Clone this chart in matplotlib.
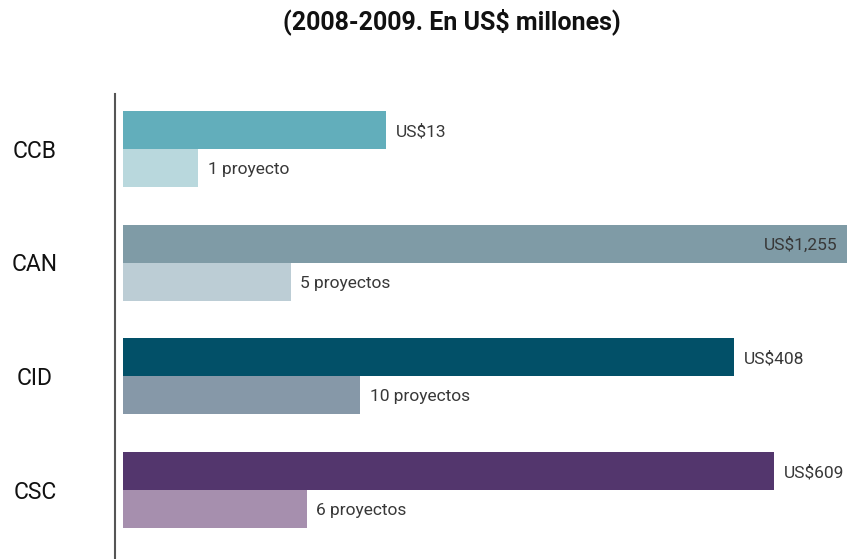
import numpy as np
import matplotlib.pyplot as plt
from matplotlib.transforms import blended_transform_factory

plt.rcParams['font.family'] = ['Roboto', 'DejaVu Sans']

# fondos por institucion, 2008-2009
entidades = ['CCB', 'CAN', 'CID', 'CSC']
montos = [13, 1255, 408, 609]          # US$ millones
proyectos = [1, 5, 10, 6]
etiquetas_monto = ['US$13', 'US$1,255', 'US$408', 'US$609']
etiquetas_proy = ['1 proyecto', '5 proyectos', '10 proyectos', '6 proyectos']

color_monto = ['#62aebb', '#7f9ba6', '#025068', '#53366d']
color_proy = ['#b9d8dd', '#bccdd5', '#8698a8', '#a68fae']

fig = plt.figure(figsize=(8.66, 5.59), dpi=100)
ax = fig.add_axes([123/866, 0, 743/866, 1 - 94/559])
ax2 = ax.twiny()

y = np.arange(len(entidades))
h = 38/113.67
base = 0.951

# montos en escala logaritmica (la barra empieza en la base del eje)
ax.barh(y - h/2, np.array(montos) - base, height=h, color=color_monto, left=base)
ax.set_xscale('log')
ax.set_xlim(base, base * 10**(743/232))

# proyectos en escala raiz cuadrada
ax2.barh(y + h/2, proyectos, height=h, color=color_proy)
ax2.set_xscale('function', functions=(np.sqrt, np.square))
ax2.set_xlim(0, (743/75)**2)

ax.set_ylim(3 + 69/113.67, -(55/113.67))

for a in (ax, ax2):
    for s in a.spines.values():
        s.set_visible(False)
    a.set_xticks([])
    a.set_yticks([])
    a.xaxis.set_minor_locator(plt.NullLocator())

ax.spines['left'].set_visible(True)
ax.spines['left'].set_position(('outward', 6))
ax.spines['left'].set_color('#555555')
ax.spines['left'].set_linewidth(1.5)

gris = '#383838'
for i in range(len(entidades)):
    if i == 1:
        ax.annotate(etiquetas_monto[i], (montos[i], y[i] - h/2), xytext=(-7, -1),
                    textcoords='offset points', ha='right', va='center',
                    fontsize=12.5, color=gris)
    else:
        ax.annotate(etiquetas_monto[i], (montos[i], y[i] - h/2), xytext=(7, -1),
                    textcoords='offset points', ha='left', va='center',
                    fontsize=12.5, color=gris)
    ax2.annotate(etiquetas_proy[i], (proyectos[i], y[i] + h/2), xytext=(7, -1),
                 textcoords='offset points', ha='left', va='center',
                 fontsize=12.5, color=gris)

trans = blended_transform_factory(fig.transFigure, ax.transData)
for i, nombre in enumerate(entidades):
    ax.text(35/866, y[i] + 0.02, nombre, transform=trans, ha='center', va='center',
            fontsize=16.5, color='#111111')

fig.text(452/866, 1 - 22/559, '(2008-2009. En US$ millones)', ha='center',
         va='center', fontsize=18, fontweight='bold', color='#111111')

fig.savefig('out.png', dpi=100)
